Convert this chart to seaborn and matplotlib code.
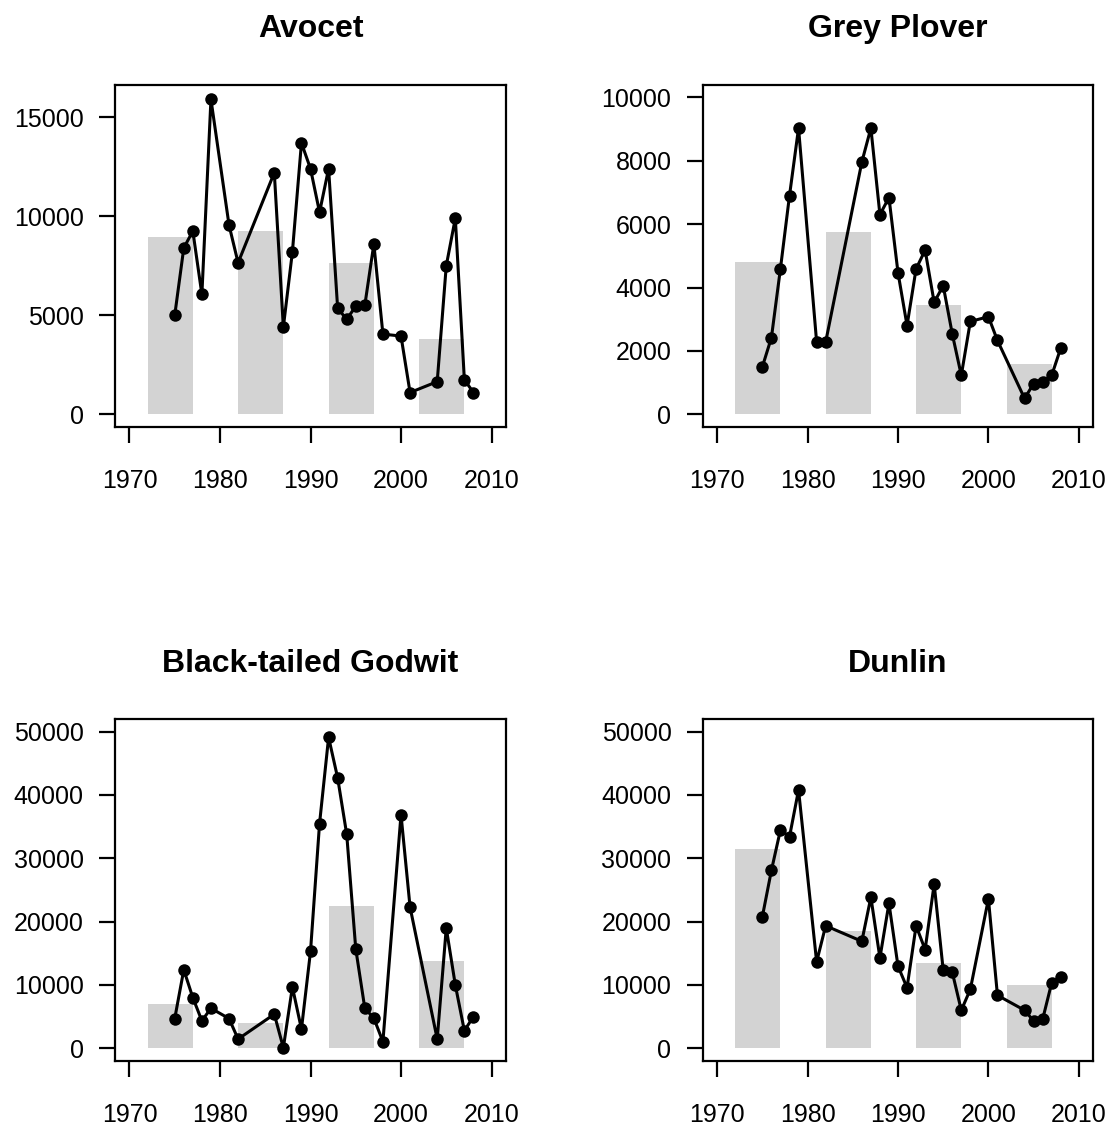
import numpy as np
import pandas as pd
import matplotlib
matplotlib.use("Agg")
import matplotlib.pyplot as plt
import seaborn as sns

# Survey years (shared by all four species)
years = [1975, 1976, 1977, 1978, 1979, 1981, 1982, 1986, 1987, 1988, 1989,
         1990, 1991, 1992, 1993, 1994, 1995, 1996, 1997, 1998,
         2000, 2001, 2004, 2005, 2006, 2007, 2008]

# Annual counts
avocet = [5000, 8400, 9250, 6050, 15900, 9550, 7650, 12200, 4400, 8200, 13700,
          12400, 10200, 12400, 5350, 4800, 5450, 5500, 8600, 4050,
          3950, 1100, 1650, 7500, 9900, 1750, 1100]
grey_plover = [1500, 2420, 4600, 6900, 9030, 2280, 2280, 7960, 9030, 6300, 6840,
               4470, 2800, 4590, 5180, 3530, 4060, 2540, 1230, 2930,
               3080, 2330, 500, 970, 1020, 1230, 2090]
godwit = [4700, 12400, 8000, 4340, 6330, 4700, 1460, 5390, 100, 9680, 3030,
          15300, 35500, 49100, 42700, 33800, 15700, 6330, 4760, 1050,
          36900, 22300, 1460, 19000, 10000, 2770, 5020]
dunlin = [20800, 28100, 34500, 33400, 40800, 13650, 19350, 16900, 23850, 14280, 22900,
          12970, 9570, 19350, 15590, 25940, 12340, 12030, 6010, 9310,
          23590, 8370, 6010, 4340, 4600, 10350, 11300]

# Decade means shown as grey bars
decade_centres = [1974.5, 1984.5, 1994.5, 2004.5]
avocet_decade = [8930, 9230, 7620, 3810]
grey_plover_decade = [4820, 5760, 3450, 1600]
godwit_decade = [6960, 3970, 22500, 13860]
dunlin_decade = [31430, 18570, 13490, 9940]

titles = ["Avocet", "Grey Plover", "Black-tailed Godwit", "Dunlin"]
series = [avocet, grey_plover, godwit, dunlin]
decades = [avocet_decade, grey_plover_decade, godwit_decade, dunlin_decade]
y_tops = [16000, 10000, 50000, 50000]
y_ticks = [[0, 5000, 10000, 15000],
           [0, 2000, 4000, 6000, 8000, 10000],
           [0, 10000, 20000, 30000, 40000, 50000],
           [0, 10000, 20000, 30000, 40000, 50000]]
x_ticks = [1970, 1980, 1990, 2000, 2010]

sns.set_style("ticks")
plt.rcParams["font.family"] = ["Liberation Sans", "DejaVu Sans"]
plt.rcParams["text.color"] = "black"

W, H = 1115, 1131
fig = plt.figure(figsize=(W / 100, H / 100), dpi=100)

# axes boxes in pixels: left, top, right, bottom
boxes = [(115, 84.7, 506, 427), (702.7, 84.7, 1093.3, 427),
         (115, 719, 506, 1061), (702.7, 719, 1093.3, 1061)]

for i in range(4):
    l, t, r, b = boxes[i]
    ax = fig.add_axes([l / W, 1 - b / H, (r - l) / W, (b - t) / H])
    ax.bar(decade_centres, decades[i], width=5, color="#d3d3d3", linewidth=0, zorder=1)
    df = pd.DataFrame({"year": years, "count": series[i]})
    sns.lineplot(data=df, x="year", y="count", ax=ax, color="black", linewidth=2.2,
                 marker="o", markersize=9, markeredgewidth=0, zorder=3)
    ax.set_xlim(1970 - 1.6, 2010 + 1.6)
    top = y_tops[i]
    ax.set_ylim(-0.04 * top, 1.04 * top)
    ax.set_xticks(x_ticks)
    ax.set_yticks(y_ticks[i])
    ax.set_xticklabels([str(v) for v in x_ticks])
    ax.set_yticklabels([str(v) for v in y_ticks[i]])
    ax.set_xlabel("")
    ax.set_ylabel("")
    for s in ax.spines.values():
        s.set_visible(True)
        s.set_linewidth(1.6)
        s.set_color("black")
    ax.tick_params(axis="both", direction="out", length=11.5, width=1.6,
                   colors="black", labelsize=18)
    ax.tick_params(axis="x", pad=19)
    ax.tick_params(axis="y", pad=11)
    ax.set_title(titles[i], fontsize=23, fontweight="bold", pad=34, color="black")
    ax.grid(False)

fig.savefig("out.png", dpi=100, facecolor="white")
